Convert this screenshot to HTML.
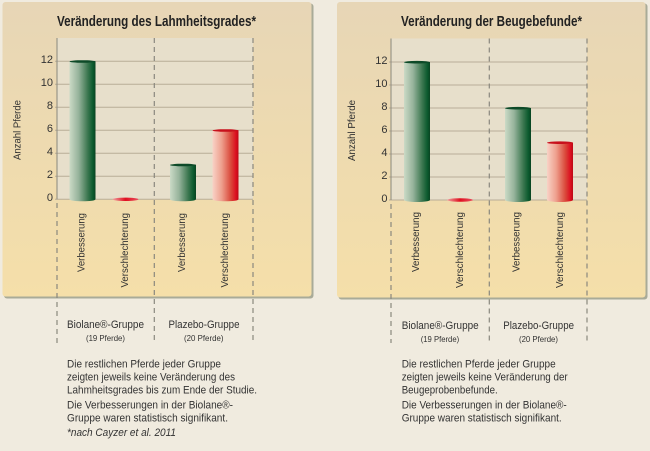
<!DOCTYPE html>
<html><head><meta charset="utf-8"><style>
html,body{margin:0;padding:0;background:#f0ebdf;}
svg{display:block;}
text{font-family:"Liberation Sans",sans-serif;fill:#333;}
</style></head><body>
<svg width="650" height="451" viewBox="0 0 650 451" xmlns="http://www.w3.org/2000/svg">
<defs>
<linearGradient id="pan" x1="0" y1="0" x2="0" y2="1">
<stop offset="0" stop-color="#e7d6b6"/><stop offset="1" stop-color="#f5dfa9"/>
</linearGradient>
<linearGradient id="gr" x1="0" y1="0" x2="1" y2="0">
<stop offset="0" stop-color="#cbdac6"/><stop offset="0.35" stop-color="#96b39b"/><stop offset="0.7" stop-color="#3c7750"/><stop offset="0.9" stop-color="#0b5a2e"/><stop offset="1" stop-color="#094422"/>
</linearGradient>
<linearGradient id="rd" x1="0" y1="0" x2="1" y2="0">
<stop offset="0" stop-color="#f8d2c6"/><stop offset="0.35" stop-color="#eea08e"/><stop offset="0.7" stop-color="#da4a3c"/><stop offset="0.9" stop-color="#dc1020"/><stop offset="1" stop-color="#bb0816"/>
</linearGradient>
<linearGradient id="rz" x1="0" y1="0" x2="1" y2="0">
<stop offset="0" stop-color="#f0a0a0"/><stop offset="0.5" stop-color="#e01020"/><stop offset="1" stop-color="#e85060"/>
</linearGradient>
</defs>

<!-- panels -->
<rect x="4" y="3.5" width="309.5" height="295" rx="3" fill="#a9ab98"/>
<rect x="2.5" y="2" width="309" height="294.5" rx="3" fill="url(#pan)"/>
<rect x="338.5" y="3.5" width="309" height="296" rx="3" fill="#a9ab98"/>
<rect x="337" y="2" width="308.5" height="295.5" rx="3" fill="url(#pan)"/>

<!-- LEFT CHART -->
<g>
<rect x="57" y="38" width="196" height="161.3" fill="#e7dfcb"/>
<g stroke="#b8ad98" stroke-width="1">
<line x1="55" x2="253" y1="199.3" y2="199.3"/>
<line x1="55" x2="253" y1="176.3" y2="176.3"/>
<line x1="55" x2="253" y1="153.3" y2="153.3"/>
<line x1="55" x2="253" y1="130.3" y2="130.3"/>
<line x1="55" x2="253" y1="107.3" y2="107.3"/>
<line x1="55" x2="253" y1="84.3" y2="84.3"/>
<line x1="55" x2="253" y1="61.3" y2="61.3"/>
</g>
<line x1="57" x2="57" y1="38" y2="199.3" stroke="#8a887e" stroke-width="1"/>
<g stroke="#8a887e" stroke-width="1.2" stroke-dasharray="5,4">
<line x1="57" x2="57" y1="203" y2="343"/>
<line x1="154.3" x2="154.3" y1="38" y2="343"/>
<line x1="253" x2="253" y1="38" y2="343"/>
</g>
<g font-size="11" text-anchor="end">
<text x="53" y="201">0</text><text x="53" y="178">2</text><text x="53" y="155">4</text><text x="53" y="132">6</text><text x="53" y="109">8</text><text x="53" y="86">10</text><text x="53" y="63">12</text>
</g>
<!-- bars -->
<rect x="69.5" y="61.3" width="26" height="138" fill="url(#gr)"/>
<ellipse cx="82.5" cy="199.3" rx="13" ry="2" fill="url(#gr)"/>
<ellipse cx="82.5" cy="61.5" rx="13" ry="1.3" fill="#0d4a28"/>
<ellipse cx="125.5" cy="199.3" rx="13" ry="1.7" fill="url(#rz)"/>
<rect x="170" y="164.8" width="26" height="34.5" fill="url(#gr)"/>
<ellipse cx="183" cy="199.3" rx="13" ry="2" fill="url(#gr)"/>
<ellipse cx="183" cy="165" rx="13" ry="1.3" fill="#0d4a28"/>
<rect x="212.5" y="130.3" width="26" height="69" fill="url(#rd)"/>
<ellipse cx="225.5" cy="199.3" rx="13" ry="2" fill="url(#rd)"/>
<ellipse cx="225.5" cy="130.5" rx="13" ry="1.3" fill="#c8101c"/>

<text x="57" y="26" font-size="15" font-weight="bold" fill="#222" textLength="199" lengthAdjust="spacingAndGlyphs" style="fill:#222">Veränderung des Lahmheitsgrades*</text>
<text transform="translate(20.5,160) rotate(-90)" font-size="10" textLength="60" lengthAdjust="spacingAndGlyphs">Anzahl Pferde</text>
<g font-size="10">
<text transform="translate(84.5,272) rotate(-90)" textLength="59" lengthAdjust="spacingAndGlyphs">Verbesserung</text>
<text transform="translate(128,287.5) rotate(-90)" textLength="74.5" lengthAdjust="spacingAndGlyphs">Verschlechterung</text>
<text transform="translate(185,272) rotate(-90)" textLength="59" lengthAdjust="spacingAndGlyphs">Verbesserung</text>
<text transform="translate(228,287.5) rotate(-90)" textLength="74.5" lengthAdjust="spacingAndGlyphs">Verschlechterung</text>
</g>
<text x="67" y="328" font-size="11" textLength="77" lengthAdjust="spacingAndGlyphs">Biolane®-Gruppe</text>
<text x="86" y="341" font-size="8.5" textLength="39" lengthAdjust="spacingAndGlyphs">(19 Pferde)</text>
<text x="168.5" y="328" font-size="11" textLength="71" lengthAdjust="spacingAndGlyphs">Plazebo-Gruppe</text>
<text x="184" y="341" font-size="8.5" textLength="39.5" lengthAdjust="spacingAndGlyphs">(20 Pferde)</text>
<g font-size="11">
<text x="67" y="367.5" textLength="154" lengthAdjust="spacingAndGlyphs">Die restlichen Pferde jeder Gruppe</text>
<text x="67" y="380.5" textLength="168" lengthAdjust="spacingAndGlyphs">zeigten jeweils keine Veränderung des</text>
<text x="67" y="393.5" textLength="190" lengthAdjust="spacingAndGlyphs">Lahmheitsgrades bis zum Ende der Studie.</text>
<text x="67" y="408.5" textLength="166" lengthAdjust="spacingAndGlyphs">Die Verbesserungen in der Biolane®-</text>
<text x="67" y="421.5" textLength="161" lengthAdjust="spacingAndGlyphs">Gruppe waren statistisch signifikant.</text>
<text x="67" y="436" font-style="italic" textLength="109" lengthAdjust="spacingAndGlyphs">*nach Cayzer et al. 2011</text>
</g>
</g>

<!-- RIGHT CHART -->
<g>
<rect x="391" y="38.5" width="196" height="161.5" fill="#e7dfcb"/>
<g stroke="#b8ad98" stroke-width="1">
<line x1="389" x2="587" y1="200" y2="200"/>
<line x1="389" x2="587" y1="177" y2="177"/>
<line x1="389" x2="587" y1="154" y2="154"/>
<line x1="389" x2="587" y1="131" y2="131"/>
<line x1="389" x2="587" y1="108" y2="108"/>
<line x1="389" x2="587" y1="85" y2="85"/>
<line x1="389" x2="587" y1="62" y2="62"/>
</g>
<line x1="391" x2="391" y1="38.5" y2="200" stroke="#8a887e" stroke-width="1"/>
<g stroke="#8a887e" stroke-width="1.2" stroke-dasharray="5,4">
<line x1="391" x2="391" y1="204" y2="343"/>
<line x1="489.3" x2="489.3" y1="38.5" y2="343"/>
<line x1="587" x2="587" y1="38.5" y2="343"/>
</g>
<g font-size="11" text-anchor="end">
<text x="387.5" y="202">0</text><text x="387.5" y="179">2</text><text x="387.5" y="156">4</text><text x="387.5" y="133">6</text><text x="387.5" y="110">8</text><text x="387.5" y="87">10</text><text x="387.5" y="64">12</text>
</g>
<rect x="404" y="62" width="26" height="138" fill="url(#gr)"/>
<ellipse cx="417" cy="200" rx="13" ry="2" fill="url(#gr)"/>
<ellipse cx="417" cy="62.2" rx="13" ry="1.3" fill="#0d4a28"/>
<ellipse cx="460" cy="200" rx="13" ry="1.7" fill="url(#rz)"/>
<rect x="505" y="108" width="26" height="92" fill="url(#gr)"/>
<ellipse cx="518" cy="200" rx="13" ry="2" fill="url(#gr)"/>
<ellipse cx="518" cy="108.2" rx="13" ry="1.3" fill="#0d4a28"/>
<rect x="547" y="142.5" width="26" height="57.5" fill="url(#rd)"/>
<ellipse cx="560" cy="200" rx="13" ry="2" fill="url(#rd)"/>
<ellipse cx="560" cy="142.7" rx="13" ry="1.3" fill="#c8101c"/>

<text x="401" y="26" font-size="15" font-weight="bold" textLength="181" lengthAdjust="spacingAndGlyphs" style="fill:#222">Veränderung der Beugebefunde*</text>
<text transform="translate(355,161) rotate(-90)" font-size="10" textLength="61" lengthAdjust="spacingAndGlyphs">Anzahl Pferde</text>
<g font-size="10">
<text transform="translate(419,272) rotate(-90)" textLength="60" lengthAdjust="spacingAndGlyphs">Verbesserung</text>
<text transform="translate(463,288) rotate(-90)" textLength="76" lengthAdjust="spacingAndGlyphs">Verschlechterung</text>
<text transform="translate(519.5,272) rotate(-90)" textLength="60" lengthAdjust="spacingAndGlyphs">Verbesserung</text>
<text transform="translate(563,288) rotate(-90)" textLength="76" lengthAdjust="spacingAndGlyphs">Verschlechterung</text>
</g>
<text x="401.7" y="329" font-size="11" textLength="77" lengthAdjust="spacingAndGlyphs">Biolane®-Gruppe</text>
<text x="420.7" y="342" font-size="8.5" textLength="38.5" lengthAdjust="spacingAndGlyphs">(19 Pferde)</text>
<text x="503.3" y="329" font-size="11" textLength="70.7" lengthAdjust="spacingAndGlyphs">Plazebo-Gruppe</text>
<text x="519" y="342" font-size="8.5" textLength="39" lengthAdjust="spacingAndGlyphs">(20 Pferde)</text>
<g font-size="11">
<text x="401.7" y="367.5" textLength="154" lengthAdjust="spacingAndGlyphs">Die restlichen Pferde jeder Gruppe</text>
<text x="401.7" y="380.5" textLength="166" lengthAdjust="spacingAndGlyphs">zeigten jeweils keine Veränderung der</text>
<text x="401.7" y="393.5" textLength="96" lengthAdjust="spacingAndGlyphs">Beugeprobenbefunde.</text>
<text x="401.7" y="408.5" textLength="165" lengthAdjust="spacingAndGlyphs">Die Verbesserungen in der Biolane®-</text>
<text x="401.7" y="421.5" textLength="160" lengthAdjust="spacingAndGlyphs">Gruppe waren statistisch signifikant.</text>
</g>
</g>
</svg>
</body></html>
